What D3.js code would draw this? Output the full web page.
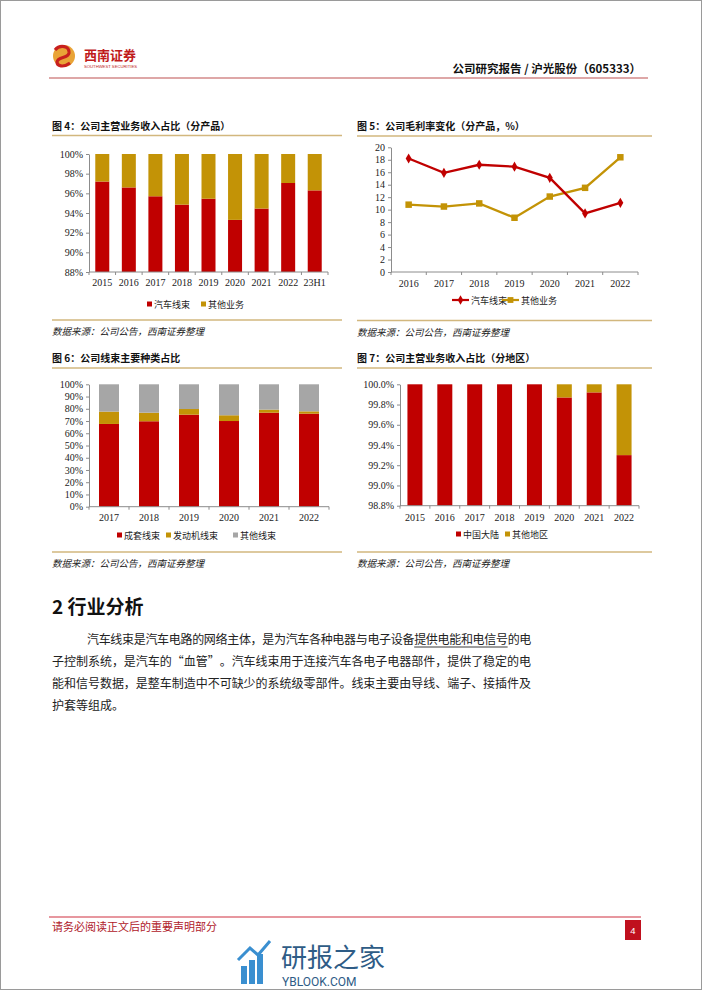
<!DOCTYPE html>
<html>
<head>
<meta charset="utf-8">
<script src="https://cdn.jsdelivr.net/npm/d3@7"></script>
<style>
body { margin: 0; background: #fff; }
svg { display: block; }
</style>
</head>
<body>
<div id="page"></div>
<script>
// ---------------- DATA ----------------
// fig 4: revenue share by product
var prodYears = ['2015', '2016', '2017', '2018', '2019', '2020', '2021', '2022', '23H1'];
var prodHarness = [97.2, 96.6, 95.7, 94.85, 95.45, 93.3, 94.45, 97.05, 96.3];
var prodOther = [2.8, 3.4, 4.3, 5.15, 4.55, 6.7, 5.55, 2.95, 3.7];
var prodTicks = [88, 90, 92, 94, 96, 98, 100];

// fig 5: gross margin by product (%)
var marginYears = ['2016', '2017', '2018', '2019', '2020', '2021', '2022'];
var marginHarness = [18.2, 15.9, 17.2, 16.9, 15.1, 9.4, 11.1];
var marginOther = [10.8, 10.5, 11.0, 8.7, 12.1, 13.5, 18.4];
var marginTicks = [0, 2, 4, 6, 8, 10, 12, 14, 16, 18, 20];

// fig 6: harness types
var typeYears = ['2017', '2018', '2019', '2020', '2021', '2022'];
var typeComplete = [67.6, 69.8, 75.2, 70.0, 76.8, 76.0];
var typeEngine = [10.1, 7.0, 4.6, 4.7, 2.5, 1.9];
var typeOther = [22.3, 23.2, 20.2, 25.3, 20.7, 22.1];
var typeTicks = [0, 10, 20, 30, 40, 50, 60, 70, 80, 90, 100];

// fig 7: revenue share by region
var regionYears = ['2015', '2016', '2017', '2018', '2019', '2020', '2021', '2022'];
var regionMainland = [100, 100, 100, 100, 100, 99.87, 99.92, 99.30];
var regionOther = [0, 0, 0, 0, 0, 0.13, 0.08, 0.70];
var regionTicks = [98.8, 99.0, 99.2, 99.4, 99.6, 99.8, 100.0];

var RED = '#C00000', GOLD = '#C39306', GRAY = '#A6A6A6';
var TAN = '#D2B77E', AXIS = '#8C8C8C';
var CJK = '"Noto Sans CJK SC", "Noto Sans", sans-serif';
var SERIF = '"Liberation Serif", "DejaVu Serif", serif';

var svg = d3.select('#page').append('svg').attr('width', 702).attr('height', 991);

// page frame
svg.append('rect').attr('x', 0.5).attr('y', 0.5).attr('width', 701).attr('height', 989)
  .attr('fill', 'none').attr('stroke', '#9a9a9a');

// ---------------- HEADER ----------------
var logo = svg.append('g');
logo.append('circle').attr('cx', 64).attr('cy', 56).attr('r', 11).attr('fill', '#E9A437');
logo.append('path').attr('d', 'M55,50 C60,44 70,46 69,53 C68,59 58,56 57,62 C57,66 63,68 70,63')
  .attr('fill', 'none').attr('stroke', '#C8201E').attr('stroke-width', 3.2);
logo.append('text').attr('x', 84).attr('y', 60).text('西南证券')
  .style('font-family', CJK).style('font-weight', 'bold').style('font-size', '13px').attr('fill', '#C01A1A');
logo.append('text').attr('x', 84).attr('y', 68).text('SOUTHWEST SECURITIES')
  .style('font-family', 'Liberation Sans, sans-serif').style('font-size', '4.2px').attr('fill', '#C01A1A');

svg.append('text').attr('x', 641).attr('y', 73).attr('text-anchor', 'end')
  .text('公司研究报告 / 沪光股份（605333）')
  .style('font-family', CJK).style('font-weight', 'bold').style('font-size', '11.5px').attr('fill', '#111');
svg.append('line').attr('x1', 49).attr('x2', 648).attr('y1', 78).attr('y2', 78)
  .attr('stroke', '#D38A8A').attr('stroke-width', 1.6);

// ---------------- HELPERS ----------------
function frame(x0, x1, title, titleY, lineY, bottomY) {
  svg.append('text').attr('x', x0).attr('y', titleY + 4).text(title)
    .style('font-family', CJK).style('font-weight', 'bold').style('font-size', '10px').attr('fill', '#111');
  svg.append('line').attr('x1', x0).attr('x2', x1).attr('y1', lineY).attr('y2', lineY)
    .attr('stroke', TAN).attr('stroke-width', 1.3);
  svg.append('line').attr('x1', x0).attr('x2', x1).attr('y1', bottomY).attr('y2', bottomY)
    .attr('stroke', TAN).attr('stroke-width', 1.3);
  svg.append('text').attr('x', x0).attr('y', bottomY + 15).text('数据来源：公司公告，西南证券整理')
    .style('font-family', CJK).style('font-style', 'italic').style('font-size', '9.5px').attr('fill', '#222');
}

function yAxis(g, y, x0, ticks, fmt) {
  var ax = g.append('g').attr('transform', 'translate(' + x0 + ',0)')
    .call(d3.axisLeft(y).tickValues(ticks).tickFormat(fmt).tickSize(3).tickSizeOuter(0).tickPadding(3));
  ax.select('.domain').attr('stroke', AXIS);
  ax.selectAll('.tick line').attr('stroke', AXIS);
  ax.selectAll('text').style('font-family', SERIF).style('font-size', '10px').attr('fill', '#222');
}

function xAxis(g, cats, xr, yb, labelY) {
  var step = (xr[1] - xr[0]) / cats.length;
  g.append('line').attr('x1', xr[0]).attr('x2', xr[1]).attr('y1', yb).attr('y2', yb).attr('stroke', AXIS);
  g.selectAll('.xt').data(d3.range(cats.length + 1)).enter().append('line')
    .attr('x1', d => xr[0] + d * step).attr('x2', d => xr[0] + d * step)
    .attr('y1', yb).attr('y2', yb + 3).attr('stroke', AXIS);
  var lab = d3.scalePoint().domain(cats).range(xr).padding(0.5);
  g.selectAll('.xl').data(cats).enter().append('text')
    .attr('x', d => lab(d)).attr('y', labelY + 4).attr('text-anchor', 'middle').text(d => d)
    .style('font-family', SERIF).style('font-size', '10px').attr('fill', '#222');
}

function legend(g, items, ly) {
  items.forEach(function (it) {
    if (it.type === 'line') {
      g.append('line').attr('x1', it.x).attr('x2', it.x + 17).attr('y1', ly).attr('y2', ly)
        .attr('stroke', it.color).attr('stroke-width', 2.2);
      g.append('path').attr('transform', 'translate(' + (it.x + 8.5) + ',' + ly + ')')
        .attr('d', d3.symbol(it.symbol, it.size)()).attr('fill', it.color);
      g.append('text').attr('x', it.x + 19).attr('y', ly + 3.5).text(it.name)
        .style('font-family', CJK).style('font-size', '9px').attr('fill', '#222');
    } else {
      g.append('rect').attr('x', it.x).attr('y', ly - 2.5).attr('width', 5).attr('height', 5).attr('fill', it.color);
      g.append('text').attr('x', it.x + 7).attr('y', ly + 3.5).text(it.name)
        .style('font-family', CJK).style('font-size', '9px').attr('fill', '#222');
    }
  });
}

// stack series from the bottom of the y domain upward
function stackedBars(g, cats, series, xr, y, barW) {
  var x = d3.scaleBand().domain(cats).range(xr);
  var base = y.domain()[0], top = y.domain()[1];
  var lows = cats.map(function () { return base; });
  var tops = cats.map(function () { return 0; });
  series.forEach(function (s) {
    var his = cats.map(function (c, i) { return Math.min(tops[i] + s.values[i], top); });
    g.selectAll(null).data(cats).enter().append('rect')
      .attr('x', d => x(d) + (x.bandwidth() - barW) / 2)
      .attr('width', barW)
      .attr('y', (d, i) => y(his[i]))
      .attr('height', (d, i) => Math.max(0, y(lows[i]) - y(his[i])))
      .attr('fill', s.color);
    cats.forEach(function (c, i) { tops[i] += s.values[i]; lows[i] = Math.max(base, his[i]); });
  });
}

// ---------------- FIG 4 ----------------
frame(52, 342, '图 4：公司主营业务收入占比（分产品）', 126, 135.5, 320);
var g4 = svg.append('g');
var y4 = d3.scaleLinear().domain([88, 100]).range([272, 154]);
stackedBars(g4, prodYears, [
  { color: RED, values: prodHarness },
  { color: GOLD, values: prodOther }
], [89, 328], y4, 14);
yAxis(g4, y4, 89, prodTicks, d => d + '%');
xAxis(g4, prodYears, [89, 328], 272, 282);
legend(g4, [
  { name: '汽车线束', color: RED, x: 147 },
  { name: '其他业务', color: GOLD, x: 201 }
], 304);

// ---------------- FIG 5 ----------------
frame(357, 652, '图 5：公司毛利率变化（分产品，%）', 126, 136, 320.5);
var g5 = svg.append('g');
var y5 = d3.scaleLinear().domain([0, 20]).range([272, 147.3]);
var x5 = d3.scalePoint().domain(marginYears).range([391, 638]).padding(0.5);
var line5 = d3.line().x((d, i) => x5(marginYears[i])).y(d => y5(d));
g5.append('path').datum(marginOther).attr('d', line5).attr('fill', 'none')
  .attr('stroke', GOLD).attr('stroke-width', 2.3);
g5.selectAll('.mo').data(marginOther).enter().append('path')
  .attr('transform', (d, i) => 'translate(' + x5(marginYears[i]) + ',' + y5(d) + ')')
  .attr('d', d3.symbol(d3.symbolSquare, 42)()).attr('fill', GOLD);
g5.append('path').datum(marginHarness).attr('d', line5).attr('fill', 'none')
  .attr('stroke', RED).attr('stroke-width', 2.3);
g5.selectAll('.mh').data(marginHarness).enter().append('path')
  .attr('transform', (d, i) => 'translate(' + x5(marginYears[i]) + ',' + y5(d) + ')')
  .attr('d', d3.symbol(d3.symbolDiamond, 30)()).attr('fill', RED);
yAxis(g5, y5, 391, marginTicks, d => d);
xAxis(g5, marginYears, [391, 638], 272, 283);
legend(g5, [
  { name: '汽车线束', color: RED, x: 452, type: 'line', symbol: d3.symbolDiamond, size: 26 },
  { name: '其他业务', color: GOLD, x: 502, type: 'line', symbol: d3.symbolSquare, size: 34 }
], 300);

// ---------------- FIG 6 ----------------
frame(52, 342, '图 6：公司线束主要种类占比', 358, 368, 552);
var g6 = svg.append('g');
var y6 = d3.scaleLinear().domain([0, 100]).range([506.7, 384.3]);
stackedBars(g6, typeYears, [
  { color: RED, values: typeComplete },
  { color: GOLD, values: typeEngine },
  { color: GRAY, values: typeOther }
], [89, 329], y6, 20);
yAxis(g6, y6, 89, typeTicks, d => d + '%');
xAxis(g6, typeYears, [89, 329], 506.7, 517);
legend(g6, [
  { name: '成套线束', color: RED, x: 117 },
  { name: '发动机线束', color: GOLD, x: 166 },
  { name: '其他线束', color: GRAY, x: 233 }
], 535);

// ---------------- FIG 7 ----------------
frame(357, 652, '图 7：公司主营业务收入占比（分地区）', 358, 368, 552);
var g7 = svg.append('g');
var y7 = d3.scaleLinear().domain([98.8, 100]).range([505.7, 384.3]);
stackedBars(g7, regionYears, [
  { color: RED, values: regionMainland },
  { color: GOLD, values: regionOther }
], [400, 639], y7, 15);
yAxis(g7, y7, 400, regionTicks, d => d3.format('.1f')(d) + '%');
xAxis(g7, regionYears, [400, 639], 505.7, 517);
legend(g7, [
  { name: '中国大陆', color: RED, x: 456 },
  { name: '其他地区', color: GOLD, x: 505 }
], 534);

// ---------------- SECTION TEXT ----------------
svg.append('text').attr('x', 52).attr('y', 614).text('2 行业分析')
  .style('font-family', CJK).style('font-weight', 'bold').style('font-size', '19px').attr('fill', '#111');

var paraLines = [
  { text: '汽车线束是汽车电路的网络主体，是为汽车各种电器与电子设备提供电能和电信号的电', x0: 87, x1: 531, y: 639, ul: [28, 36] },
  { text: '子控制系统，是汽车的“血管”。汽车线束用于连接汽车各电子电器部件，提供了稳定的电', x0: 52, x1: 531, y: 661 },
  { text: '能和信号数据，是整车制造中不可缺少的系统级零部件。线束主要由导线、端子、接插件及', x0: 52, x1: 531, y: 683 },
  { text: '护套等组成。', x0: 52, x1: 52 + 6 * 11.98, y: 705 }
];
paraLines.forEach(function (ln) {
  var chars = Array.from(ln.text);
  var pitch = (ln.x1 - ln.x0) / chars.length;
  svg.selectAll(null).data(chars).enter().append('text')
    .attr('x', (d, i) => ln.x0 + i * pitch).attr('y', ln.y + 4.5).text(d => d)
    .style('font-family', CJK).style('font-size', '12px').attr('fill', '#222');
  if (ln.ul) {
    svg.append('line').attr('x1', ln.x0 + ln.ul[0] * pitch).attr('x2', ln.x0 + ln.ul[1] * pitch)
      .attr('y1', ln.y + 8).attr('y2', ln.y + 8).attr('stroke', '#222').attr('stroke-width', 0.9);
  }
});

// ---------------- FOOTER ----------------
svg.append('line').attr('x1', 49).attr('x2', 641).attr('y1', 917).attr('y2', 917)
  .attr('stroke', '#D03040').attr('stroke-width', 1.2);
svg.append('text').attr('x', 52).attr('y', 931).text('请务必阅读正文后的重要声明部分')
  .style('font-family', CJK).style('font-size', '11px').attr('fill', '#B0202A');
svg.append('rect').attr('x', 625).attr('y', 920).attr('width', 16).attr('height', 20).attr('fill', '#C0101E');
svg.append('text').attr('x', 633).attr('y', 934).attr('text-anchor', 'middle').text('4')
  .style('font-family', 'Liberation Sans, sans-serif').style('font-size', '9.5px').attr('fill', '#fff');

// watermark
var wm = svg.append('g');
[[241, 966, 6, 18], [249, 960, 6, 24], [257, 954, 6, 30]].forEach(function (b) {
  wm.append('rect').attr('x', b[0]).attr('y', b[1]).attr('width', b[2]).attr('height', b[3]).attr('fill', '#3A8FD0');
});
wm.append('path').attr('d', 'M238,960 L250,948 L258,955 L270,941').attr('fill', 'none')
  .attr('stroke', '#3A8FD0').attr('stroke-width', 3);
wm.append('text').attr('x', 281).attr('y', 967).text('研报之家')
  .style('font-family', CJK).style('font-size', '26px').attr('fill', '#2E5C86');
wm.append('text').attr('x', 282).attr('y', 986).text('YBLOOK.COM')
  .style('font-family', 'Roboto, sans-serif').style('font-size', '12px').attr('fill', '#2E5C86');
</script>
</body>
</html>
